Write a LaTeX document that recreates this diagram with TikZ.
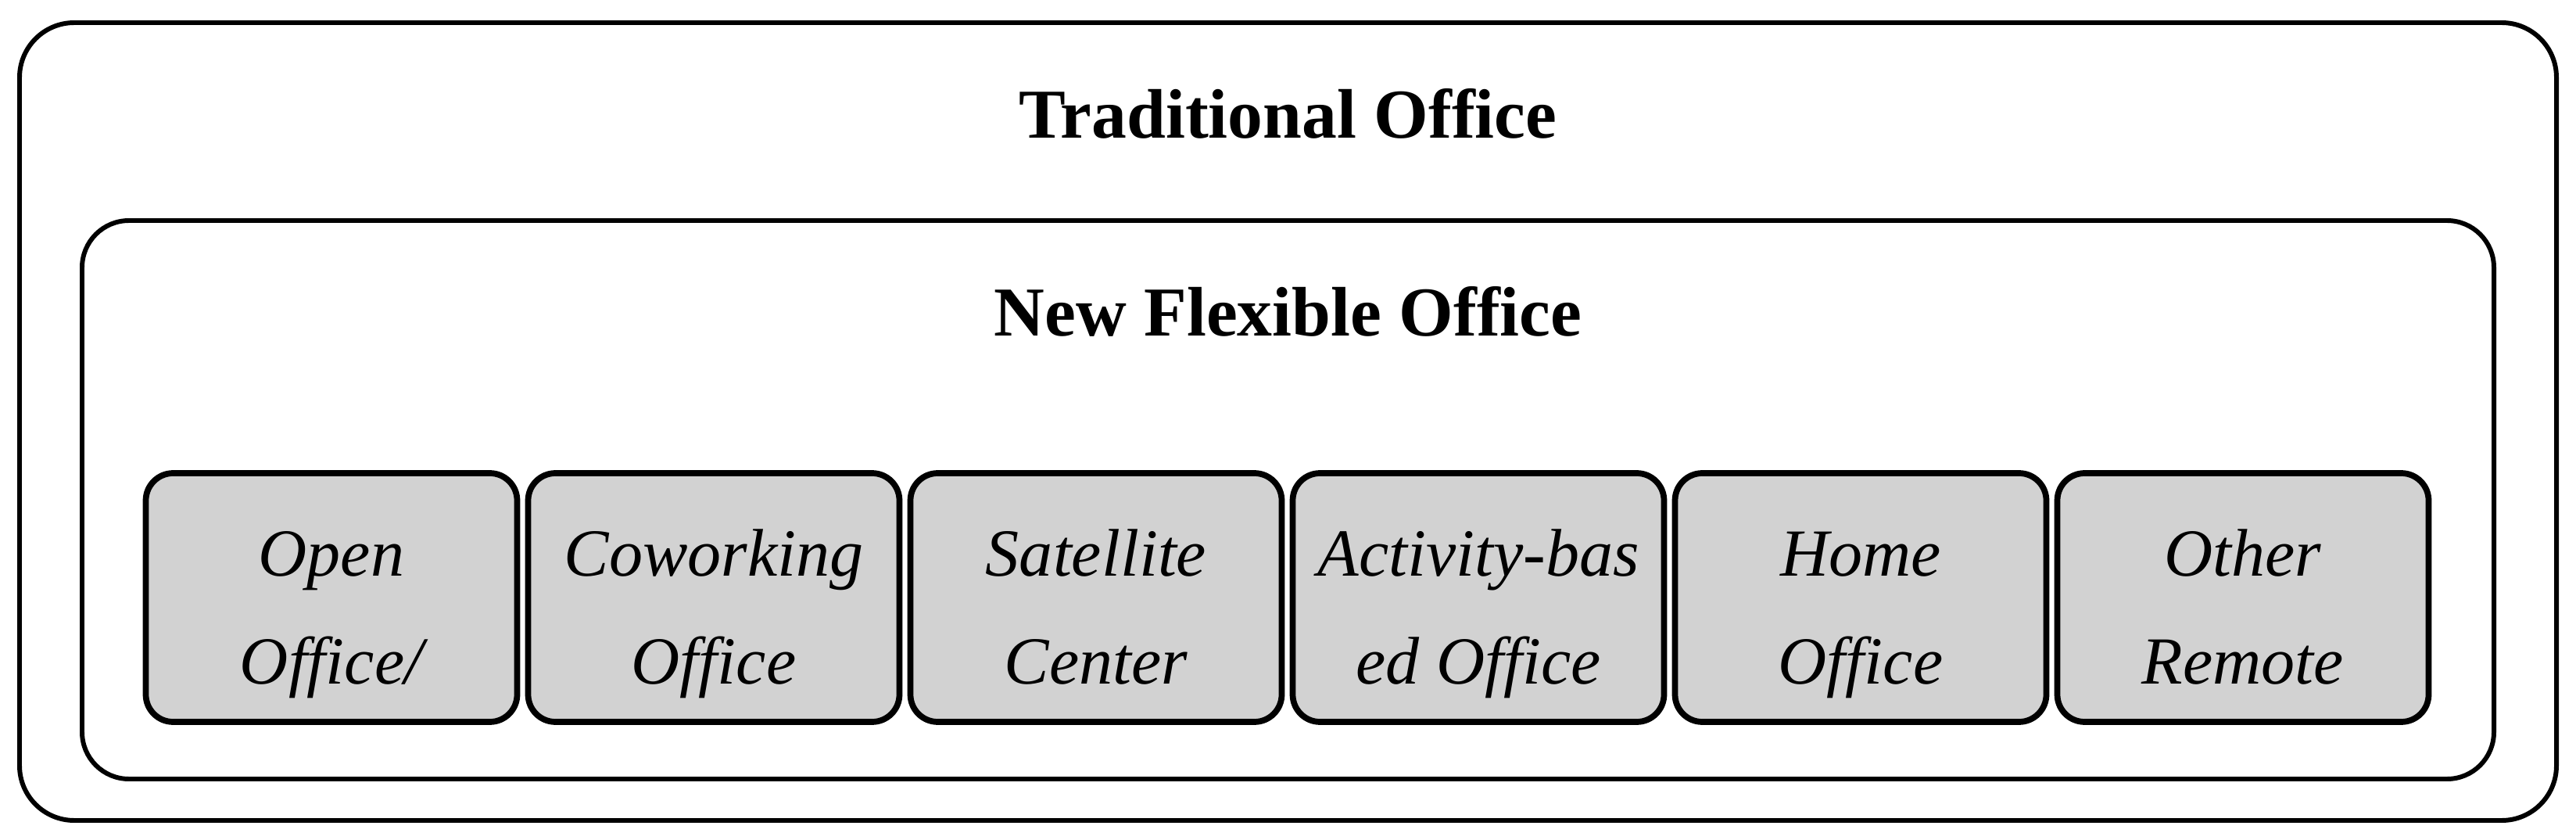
\documentclass[tikz,border=0pt]{standalone}
\usepackage{fontspec}
\setmainfont{Liberation Serif}
\definecolor{boxgray}{RGB}{210,210,210}
\newcommand\kup{\rule{0pt}{35.3pt}}
\tikzset{
  framebox/.style={draw=black, line width=1.7pt, rounded corners=0.7cm},
  innerframe/.style={draw=black, line width=1.7pt, rounded corners=0.6cm},
  kindbox/.style={draw=black, fill=boxgray, line width=2.2pt, rounded corners=0.35cm,
    minimum width=4.75cm, minimum height=3.18cm, inner sep=0pt, align=center,
    font=\fontsize{24.5}{39}\selectfont\itshape},
  titletext/.style={anchor=base, inner sep=0pt, font=\fontsize{25.5}{29}\selectfont\bfseries}
}
\begin{document}
\begin{tikzpicture}
\useasboundingbox (0,0) rectangle (32.95,10.73);
\draw[framebox] (0.25,0.24) rectangle (32.70,10.44);
\node[titletext] (trad) at (16.475,8.96) {Traditional Office};
\draw[innerframe] (1.05,0.77) rectangle (31.90,7.91);
\node[titletext] (flex) at (16.475,6.43) {New Flexible Office};
\node[kindbox] (b1) at (4.24,3.09) {\kup Open\\Office/\strut};
\node[kindbox] (b2) at (9.13,3.09) {\kup Coworking\\Office\strut};
\node[kindbox] (b3) at (14.02,3.09) {\kup Satellite\\Center\strut};
\node[kindbox] (b4) at (18.91,3.09) {\kup Activity-bas\\ed Office\strut};
\node[kindbox] (b5) at (23.80,3.09) {\kup Home\\Office\strut};
\node[kindbox] (b6) at (28.69,3.09) {\kup Other\\Remote\strut};
\end{tikzpicture}
\end{document}
